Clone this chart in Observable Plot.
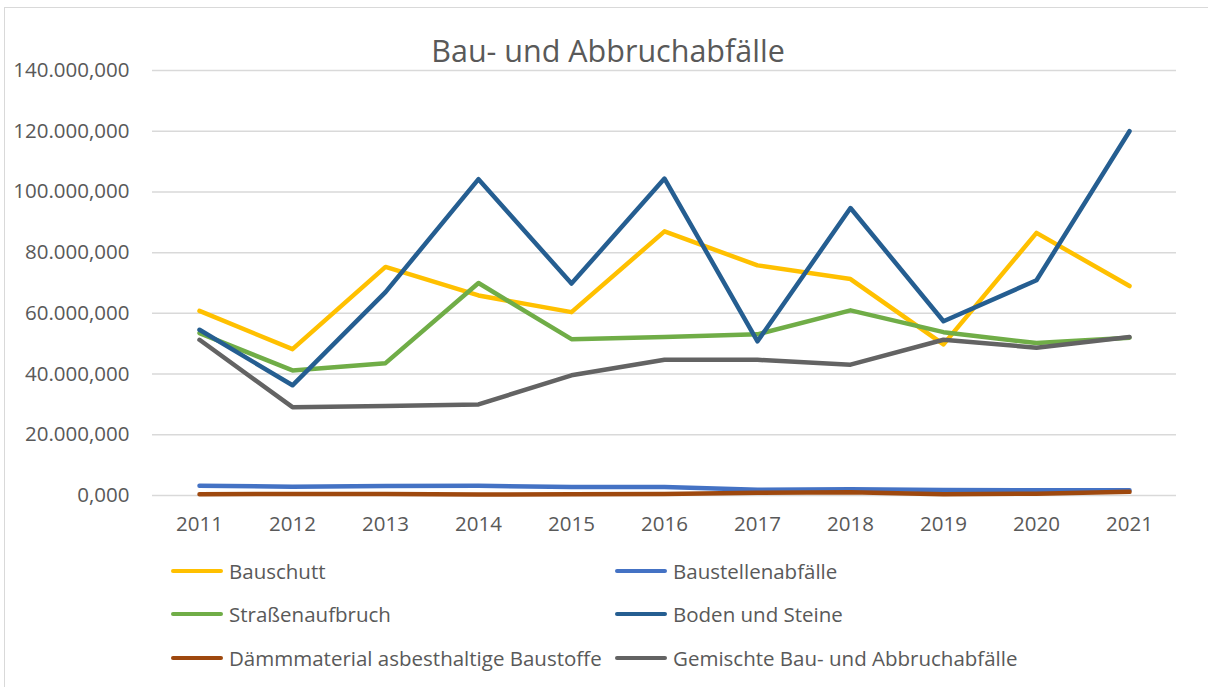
<!DOCTYPE html>
<html>
<head>
<meta charset="utf-8">
<script src="https://cdn.jsdelivr.net/npm/d3@7"></script>
<script src="https://cdn.jsdelivr.net/npm/@observablehq/plot@0.6"></script>
<style>
  html, body { margin: 0; padding: 0; background: #fff; overflow: hidden; width: 1208px; height: 687px; }
  #frame { position: absolute; left: 4px; top: 7px; width: 1220px; height: 700px; border: 1.5px solid #d9d9d9; box-sizing: border-box; }
  #chart { position: absolute; left: 0; top: 0; }
  #title { position: absolute; left: 0; width: 1216px; top: 31px; text-align: center; font-family: "Open Sans", sans-serif; font-size: 30.5px; color: #595959; line-height: 38px; }
  .leg { position: absolute; font-family: "Open Sans", sans-serif; font-size: 20.5px; color: #595959; display: flex; align-items: center; white-space: nowrap; }
  .leg .sw { width: 52px; height: 4.5px; border-radius: 3px; margin-right: 6px; }
</style>
</head>
<body>
<div id="frame"></div>
<div id="chart"></div>
<div id="title">Bau- und Abbruchabfälle</div>
<div id="legend"></div>
<script>
// values in 1000 t
const years = [2011, 2012, 2013, 2014, 2015, 2016, 2017, 2018, 2019, 2020, 2021];
const seriesNames = ["Bauschutt", "Baustellenabfälle", "Straßenaufbruch", "Boden und Steine", "Dämmmaterial asbesthaltige Baustoffe", "Gemischte Bau- und Abbruchabfälle"];
const bauschutt        = [60800, 48200, 75300, 65900, 60400, 87000, 75800, 71300, 49800, 86500, 69000];
const baustellen       = [3200, 2900, 3100, 3200, 2800, 2800, 1900, 2100, 1800, 1700, 1700];
const strassen         = [53500, 41200, 43600, 70000, 51500, 52200, 53100, 61000, 53800, 50200, 52000];
const boden            = [54600, 36300, 67000, 104200, 69800, 104400, 50800, 94700, 57400, 70900, 120000];
const daemm            = [400, 500, 500, 300, 400, 500, 900, 1100, 400, 600, 1200];
const gemischt         = [51300, 29100, 29500, 30000, 39600, 44700, 44700, 43100, 51300, 48700, 52200];
const yTicks = [0, 20000, 40000, 60000, 80000, 100000, 120000, 140000];
const colors = ["#FFC000", "#4472C4", "#70AD47", "#255E91", "#9E480E", "#636363"];

const allSeries = [bauschutt, baustellen, strassen, boden, daemm, gemischt];
const rows = [];
allSeries.forEach((vals, i) => {
  vals.forEach((v, j) => rows.push({series: seriesNames[i], year: String(years[j]), value: v}));
});

const de = d3.formatLocale({decimal: ",", thousands: ".", grouping: [3], currency: ["", " €"]});
const fmt = de.format(",.3f");

const chart = Plot.plot({
  width: 1208,
  height: 550,
  marginTop: 70,
  marginBottom: 55,
  marginLeft: 152,
  marginRight: 32,
  style: {fontFamily: "'Open Sans', sans-serif", fontSize: "20.5px", color: "#595959", background: "transparent", overflow: "visible"},
  x: {type: "point", domain: years.map(String), padding: 0.5, label: null},
  y: {domain: [0, 140000], ticks: yTicks, label: null},
  color: {domain: seriesNames, range: colors},
  marks: [
    Plot.gridY(yTicks, {stroke: "#d9d9d9", strokeOpacity: 1, strokeWidth: 1.5}),
    Plot.axisY(yTicks, {tickSize: 0, tickPadding: 23, tickFormat: fmt, fill: "#595959", fontSize: 20.5}),
    Plot.axisX({tickSize: 0, tickPadding: 21, fill: "#595959", fontSize: 20.5}),
    Plot.line(rows, {x: "year", y: "value", z: "series", stroke: "series", strokeWidth: 4.5, strokeLinejoin: "round", strokeLinecap: "round"})
  ]
});
document.getElementById("chart").appendChild(chart);

// legend
const legPos = [
  [171, 571], [615, 571],
  [171, 614], [615, 614],
  [171, 658], [615, 658]
];
const legend = document.getElementById("legend");
seriesNames.forEach((name, i) => {
  const d = document.createElement("div");
  d.className = "leg";
  d.style.left = legPos[i][0] + "px";
  d.style.top = (legPos[i][1] - 14) + "px";
  d.style.height = "28px";
  d.innerHTML = `<span class="sw" style="background:${colors[i]}"></span><span>${name}</span>`;
  legend.appendChild(d);
});
</script>
</body>
</html>
